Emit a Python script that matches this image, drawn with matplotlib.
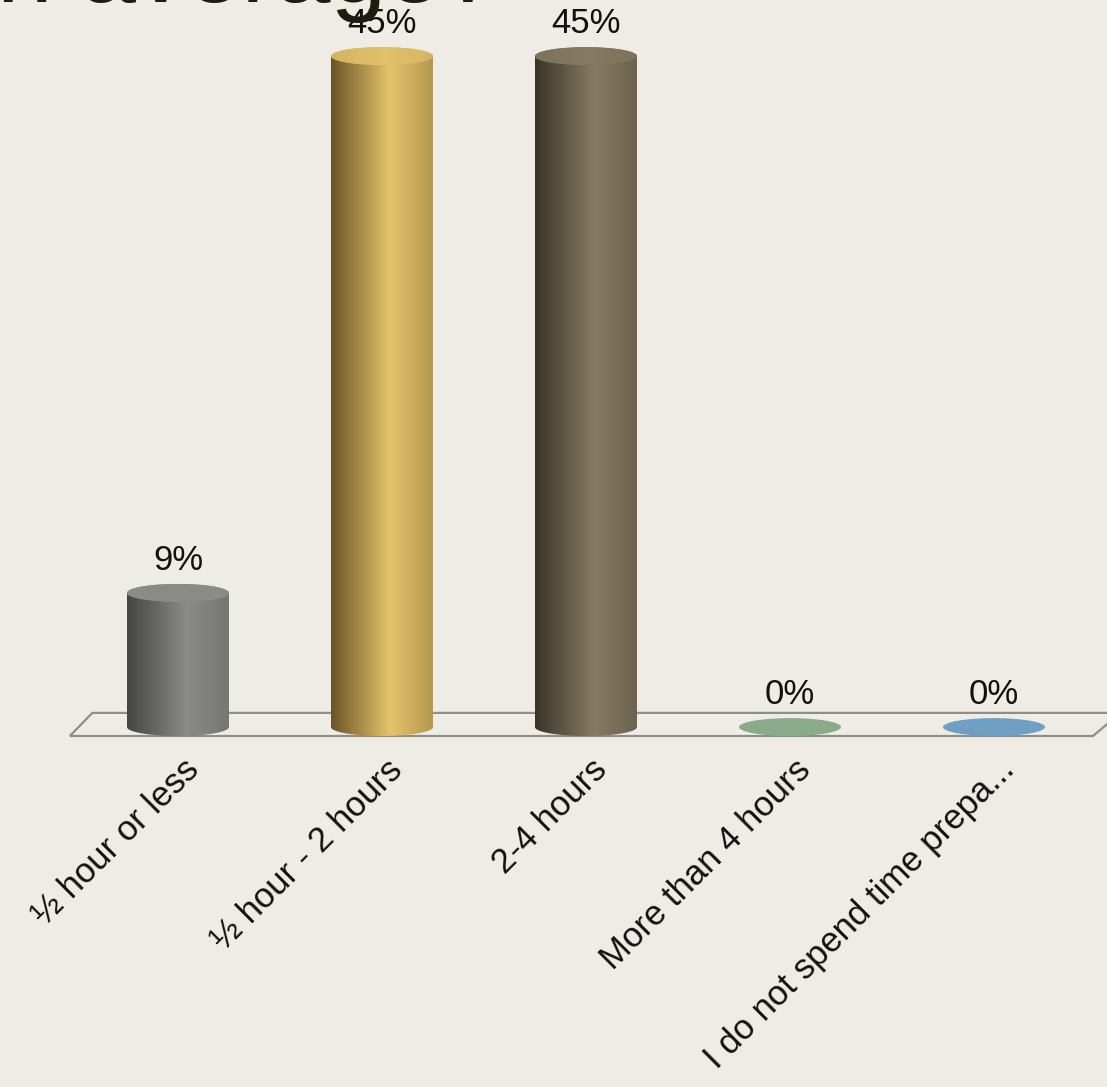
import numpy as np
import matplotlib
matplotlib.use("Agg")
import matplotlib.pyplot as plt
from matplotlib.colors import LinearSegmentedColormap
from matplotlib.patches import Ellipse, PathPatch, Polygon
from matplotlib.path import Path

plt.rcParams["font.family"] = ["Liberation Sans", "DejaVu Sans"]

# survey answers (percent of respondents)
categories = ["½ hour or less", "½ hour - 2 hours", "2-4 hours",
              "More than 4 hours", "I do not spend time prepa..."]
values = [9, 45, 45, 0, 0]
value_labels = ["9%", "45%", "45%", "0%", "0%"]

# cylinder shading: dark left edge -> highlight -> right edge
shade_dark = ["#454643", "#6a5426", "#3a3428", "#5f7a5f", "#4a7592"]
shade_light = ["#8a8b86", "#e5c46c", "#867b63", "#8aab8a", "#6f9fc2"]
shade_right = ["#767772", "#b59850", "#6c634f", "#8aab8a", "#6f9fc2"]
top_color = ["#8c8d88", "#d6b462", "#7e745e", "#8aab8a", "#6f9fc2"]

BG = "#efece5"

fig = plt.figure(figsize=(11.07, 10.87), dpi=100)
fig.patch.set_facecolor(BG)
ax = fig.add_axes([0, 0, 1, 1])
ax.set_facecolor(BG)
ax.axis("off")

r = 0.25      # cylinder radius in category units
b = 0.6       # half height of the end ellipses in percent units

# floor of the 3d plot
floor = Polygon([(-0.53, -0.6), (4.485, -0.6), (4.62, 0.95), (-0.42, 0.95)],
                closed=True, facecolor="none", edgecolor="#8e8e8c", lw=1.6, zorder=1)
ax.add_patch(floor)

grad = np.linspace(0, 1, 256).reshape(1, -1)

for i, v in enumerate(values):
    if v > 0:
        cmap = LinearSegmentedColormap.from_list(
            f"cyl{i}", [(0, shade_dark[i]), (0.58, shade_light[i]), (1, shade_right[i])])
        theta = np.linspace(np.pi, 2 * np.pi, 80)
        verts = [(i - r, v), (i - r, 0)]
        verts += list(zip(i + r * np.cos(theta), b * np.sin(theta)))
        verts += [(i + r, v), (i - r, v)]
        codes = [Path.MOVETO] + [Path.LINETO] * (len(verts) - 2) + [Path.CLOSEPOLY]
        clip = PathPatch(Path(verts, codes), facecolor="none", edgecolor="none",
                         transform=ax.transData)
        ax.add_patch(clip)
        im = ax.imshow(grad, cmap=cmap, extent=[i - r, i + r, -b, v],
                       aspect="auto", zorder=2, interpolation="bilinear")
        im.set_clip_path(clip)
        # lid shaded a little lighter than the side
        lid = Ellipse((i, v), 2 * r, 2 * b, facecolor="none", edgecolor="none",
                      transform=ax.transData)
        ax.add_patch(lid)
        lid_cmap = LinearSegmentedColormap.from_list(
            f"lid{i}", [(0, top_color[i]), (0.55, shade_light[i]), (1, top_color[i])])
        im2 = ax.imshow(grad, cmap=lid_cmap, extent=[i - r, i + r, v - b, v + b],
                        aspect="auto", zorder=3, interpolation="bilinear", alpha=0.9)
        im2.set_clip_path(lid)
        ax.add_patch(Ellipse((i, v), 2 * r, 2 * b, facecolor=top_color[i],
                             edgecolor="none", zorder=2.5))
    else:
        ax.add_patch(Ellipse((i, v), 2 * r, 2 * b, facecolor=top_color[i],
                             edgecolor="none", zorder=3))
    ax.text(i, v + 2.2, value_labels[i], ha="center", va="center",
            fontsize=25, color="#111111", zorder=4)
    ax.text(i + 0.02, -1.75, categories[i], rotation=45, rotation_mode="anchor",
            ha="right", va="top", fontsize=25, color="#111111")

# slide title, cut off at the top edge
fig.text(-3 / 1107, 1 - 2 / 1087, "n average?", ha="left", va="baseline",
         fontsize=72, color="#1c1c10")

ax.set_xlim(-0.8725, 4.554)
ax.set_ylim(-24.14, 48.76)

fig.savefig("out.png", dpi=100, facecolor=BG)
